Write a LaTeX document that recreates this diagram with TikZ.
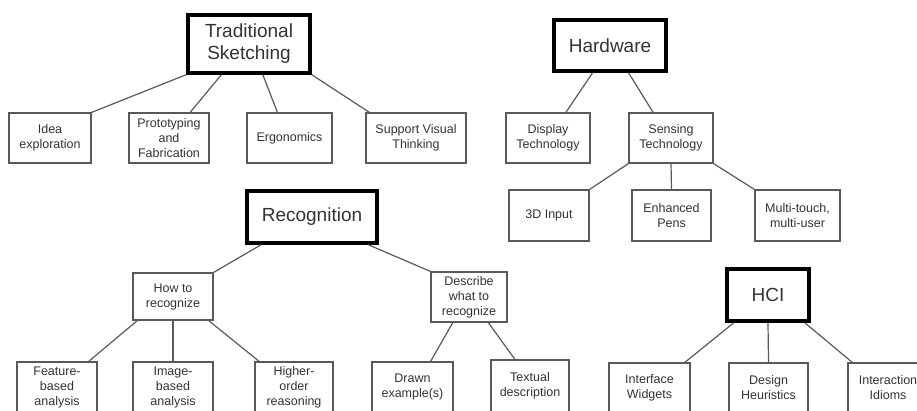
\documentclass[tikz,border=0pt]{standalone}
\usepackage{fontspec}
\setmainfont{Liberation Sans}
\usetikzlibrary{calc}
\begin{document}
\begin{tikzpicture}[x=1pt,y=-1pt,
  topic/.style={draw=black,line width=3.2pt,fill=white,align=center,inner sep=0pt,
    font=\fontsize{19}{22}\selectfont,text=black!80},
  leaf/.style={draw=black!65,line width=1.2pt,fill=white,align=center,inner sep=0pt,
    font=\fontsize{12.5}{15}\selectfont,text=black!80},
  link/.style={draw=black!65,line width=1.2pt}]
\useasboundingbox (0,0) rectangle (917,410);
\clip (0,0) rectangle (917,410);

% Traditional sketching branch
\node[topic,minimum width=122pt,minimum height=58pt] (ts) at (249,44) {Traditional\\Sketching};
\node[leaf,minimum width=82pt,minimum height=50pt] (idea) at (50,138) {Idea\\exploration};
\node[leaf,minimum width=80pt,minimum height=50pt] (proto) at (169,138) {Prototyping\\and\\Fabrication};
\node[leaf,minimum width=85pt,minimum height=50pt] (ergo) at (289.5,138) {Ergonomics};
\node[leaf,minimum width=100pt,minimum height=50pt] (support) at (416,138) {Support Visual\\Thinking};

% Hardware branch
\node[topic,minimum width=112pt,minimum height=51pt] (hw) at (610,45.5) {Hardware};
\node[leaf,minimum width=84pt,minimum height=50pt] (display) at (548,138) {Display\\Technology};
\node[leaf,minimum width=84pt,minimum height=50pt] (sensing) at (671,138) {Sensing\\Technology};
\node[leaf,minimum width=80pt,minimum height=51pt] (input3d) at (549,215.5) {3D Input};
\node[leaf,minimum width=79pt,minimum height=51pt] (pens) at (671.5,215.5) {Enhanced\\Pens};
\node[leaf,minimum width=85pt,minimum height=51pt] (multi) at (797.5,215.5) {Multi-touch,\\multi-user};

% Recognition branch
\node[topic,minimum width=130pt,minimum height=52pt] (rec) at (312,217) {Recognition};
\node[leaf,minimum width=80pt,minimum height=47pt] (how) at (173,296.5) {How to\\recognize};
\node[leaf,minimum width=76pt,minimum height=50pt] (describe) at (469,297) {Describe\\what to\\recognize};
\node[leaf,minimum width=80pt,minimum height=50pt] (feature) at (57,387) {Feature-\\based\\analysis};
\node[leaf,minimum width=80pt,minimum height=50pt] (image) at (173,387) {Image-\\based\\analysis};
\node[leaf,minimum width=78pt,minimum height=50pt] (higher) at (294,387) {Higher-\\order\\reasoning};
\node[leaf,minimum width=81pt,minimum height=50pt] (drawn) at (412.5,387) {Drawn\\example(s)};
\node[leaf,minimum width=78pt,minimum height=52pt] (textual) at (530,386) {Textual\\description};

% HCI branch
\node[topic,minimum width=82pt,minimum height=52pt] (hci) at (768,295) {HCI};
\node[leaf,minimum width=81pt,minimum height=50pt] (widgets) at (649.5,388) {Interface\\Widgets};
\node[leaf,minimum width=79pt,minimum height=50pt] (design) at (768.5,388) {Design\\Heuristics};
\node[leaf,minimum width=80pt,minimum height=50pt] (idioms) at (888,388) {Interaction\\Idioms};

% Connectors
\draw[link] (ts.south west) -- (idea.north east);
\draw[link] ($(ts.south west)!0.28!(ts.south east)$) -- ($(proto.north west)!0.76!(proto.north east)$);
\draw[link] ($(ts.south west)!0.61!(ts.south east)$) -- ($(ergo.north west)!0.36!(ergo.north east)$);
\draw[link] (ts.south east) -- ($(support.north west)!0.04!(support.north east)$);

\draw[link] ($(hw.south west)!0.35!(hw.south east)$) -- ($(display.north west)!0.71!(display.north east)$);
\draw[link] ($(hw.south west)!0.66!(hw.south east)$) -- ($(sensing.north west)!0.29!(sensing.north east)$);
\draw[link] (sensing.south west) -- (input3d.north east);
\draw[link] (sensing.south) -- (pens.north);
\draw[link] (sensing.south east) -- (multi.north west);

\draw[link] ($(rec.south west)!0.12!(rec.south east)$) -- (how.north east);
\draw[link] ($(rec.south west)!0.92!(rec.south east)$) -- (describe.north west);
\draw[link] ($(how.south west)!0.06!(how.south east)$) -- ($(feature.north west)!0.89!(feature.north east)$);
\draw[link] (how.south) -- (image.north);
\draw[link] ($(how.south west)!0.94!(how.south east)$) -- ($(higher.north west)!0.06!(higher.north east)$);
\draw[link] ($(describe.south west)!0.29!(describe.south east)$) -- ($(drawn.north west)!0.72!(drawn.north east)$);
\draw[link] ($(describe.south west)!0.75!(describe.south east)$) -- ($(textual.north west)!0.31!(textual.north east)$);

\draw[link] ($(hci.south west)!0.1!(hci.south east)$) -- ($(widgets.north west)!0.93!(widgets.north east)$);
\draw[link] (hci.south) -- (design.north);
\draw[link] ($(hci.south west)!0.93!(hci.south east)$) -- ($(idioms.north west)!0.06!(idioms.north east)$);
\end{tikzpicture}
\end{document}
